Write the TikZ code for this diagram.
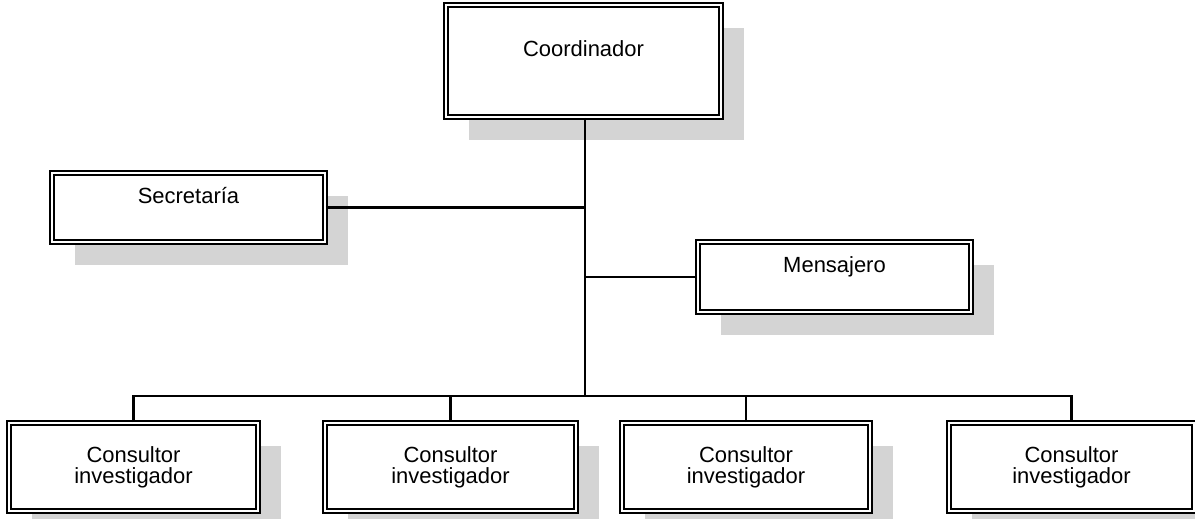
\documentclass[tikz,border=0pt]{standalone}
\usepackage{fontspec}
\setmainfont{Liberation Sans}
\usetikzlibrary{shadows}
\tikzset{
  puesto/.style={draw=black, line width=1.05pt, double=white, double distance=1.1pt,
    fill=white, align=center, font=\fontsize{12.5}{12}\selectfont,
    general shadow={fill=black!17, shadow xshift=0.46cm, shadow yshift=-0.46cm}},
  arriba/.style={text depth=0.5cm},
  linea/.style={line width=1.2pt}
}
\begin{document}
\begin{tikzpicture}[x=0.02cm,y=-0.02cm]
  \useasboundingbox (0,0) rectangle (1195,519);
  % cargos
  \node[puesto, arriba, minimum width=5.5cm, minimum height=2.24cm] (coord) at (583.5,61) {Coordinador};
  \node[puesto, arriba, minimum width=5.46cm, minimum height=1.38cm] (secre) at (188.5,207.5) {Secretaría};
  \node[puesto, arriba, minimum width=5.46cm, minimum height=1.4cm] (mensa) at (834.5,277) {Mensajero};
  \node[puesto, minimum width=4.98cm, minimum height=1.76cm] (cons1) at (133.5,467) {Consultor\\investigador};
  \node[puesto, minimum width=5.02cm, minimum height=1.76cm] (cons2) at (450.5,467) {Consultor\\investigador};
  \node[puesto, minimum width=4.96cm, minimum height=1.76cm] (cons3) at (746,467) {Consultor\\investigador};
  \node[puesto, minimum width=4.9cm, minimum height=1.76cm] (cons4) at (1071.5,467) {Consultor\\investigador};
  \coordinate (rama) at (585,396);
  % lineas
  \draw[linea] (coord.south -| rama) -- (rama);
  \draw[linea] (secre.east) -- (secre.east -| rama);
  \draw[linea] (mensa.west) -- (mensa.west -| rama);
  \draw[linea] (cons1.north) |- (rama) -| (cons4.north);
  \draw[linea] (cons2.north) -- (cons2.north |- rama);
  \draw[linea] (cons3.north) -- (cons3.north |- rama);
\end{tikzpicture}
\end{document}
